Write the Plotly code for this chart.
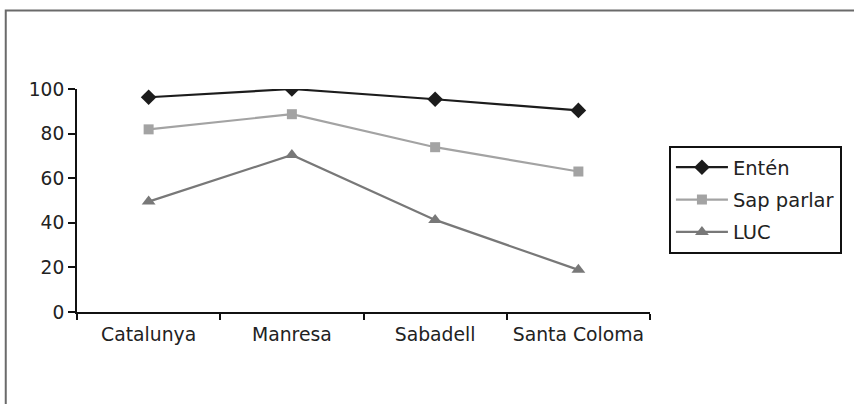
import plotly.graph_objects as go

# Categories and series values
places = ["Catalunya", "Manresa", "Sabadell", "Santa Coloma"]
enten = [96.3, 100.0, 95.4, 90.4]
sap_parlar = [81.9, 88.7, 73.9, 63.0]
luc = [49.5, 70.4, 41.3, 18.9]
y_ticks = [0, 20, 40, 60, 80, 100]

W, H = 854, 404
L, R, T, B = 77, 202, 89, 92
pw, ph = W - L - R, H - T - B

def px_x(x):
    return (x - L) / pw

def px_y(y):
    return (H - B - y) / ph

FONT = "DejaVu Sans"

fig = go.Figure()
series = [
    ("Entén", enten, "#1c1c1c", "diamond", 12),
    ("Sap parlar", sap_parlar, "#a3a3a3", "square", 10),
    ("LUC", luc, "#787878", "triangle-up", 12),
]
for name, vals, col, sym, size in series:
    fig.add_trace(go.Scatter(
        x=places, y=vals, name=name, mode="lines+markers",
        legendgroup=name,
        line=dict(color=col, width=2.2),
        marker=dict(symbol=sym, size=size, color=col, line=dict(width=0)),
    ))

fig.update_layout(
    width=W, height=H,
    margin=dict(l=L, r=R, t=T, b=B),
    paper_bgcolor="white", plot_bgcolor="white",
    font=dict(family=FONT, size=19, color="#222"),
    showlegend=True,
    legend=dict(
        x=px_x(671), y=px_y(146), xanchor="left", yanchor="top",
        bordercolor="#111", borderwidth=2, bgcolor="white",
        font=dict(family=FONT, size=19.5, color="#222"),
        itemwidth=52, tracegroupgap=4,
    ),
    xaxis=dict(
        type="category", range=[-0.5, 3.5], tickson="boundaries",
        showline=True, linecolor="#111", linewidth=2,
        ticks="outside", ticklen=6, tickwidth=2, tickcolor="#111",
        showgrid=False, zeroline=False, ticklabelstandoff=4,
        tickangle=0, automargin=False,
        tickfont=dict(family=FONT, size=18.8, color="#222"),
    ),
    yaxis=dict(
        range=[0, 100], tickvals=y_ticks, showline=True,
        linecolor="#111", linewidth=2,
        ticks="outside", ticklen=7, tickwidth=2, tickcolor="#111",
        showgrid=False, zeroline=False, automargin=False,
        tickfont=dict(family=FONT, size=18.6, color="#222"),
    ),
    shapes=[dict(
        type="rect", xref="paper", yref="paper",
        x0=px_x(5.5), x1=px_x(870), y0=px_y(420), y1=px_y(10.5),
        line=dict(color="#6a6a6a", width=2), fillcolor="rgba(0,0,0,0)",
        layer="below",
    )],
)

fig.write_html("out.html")
